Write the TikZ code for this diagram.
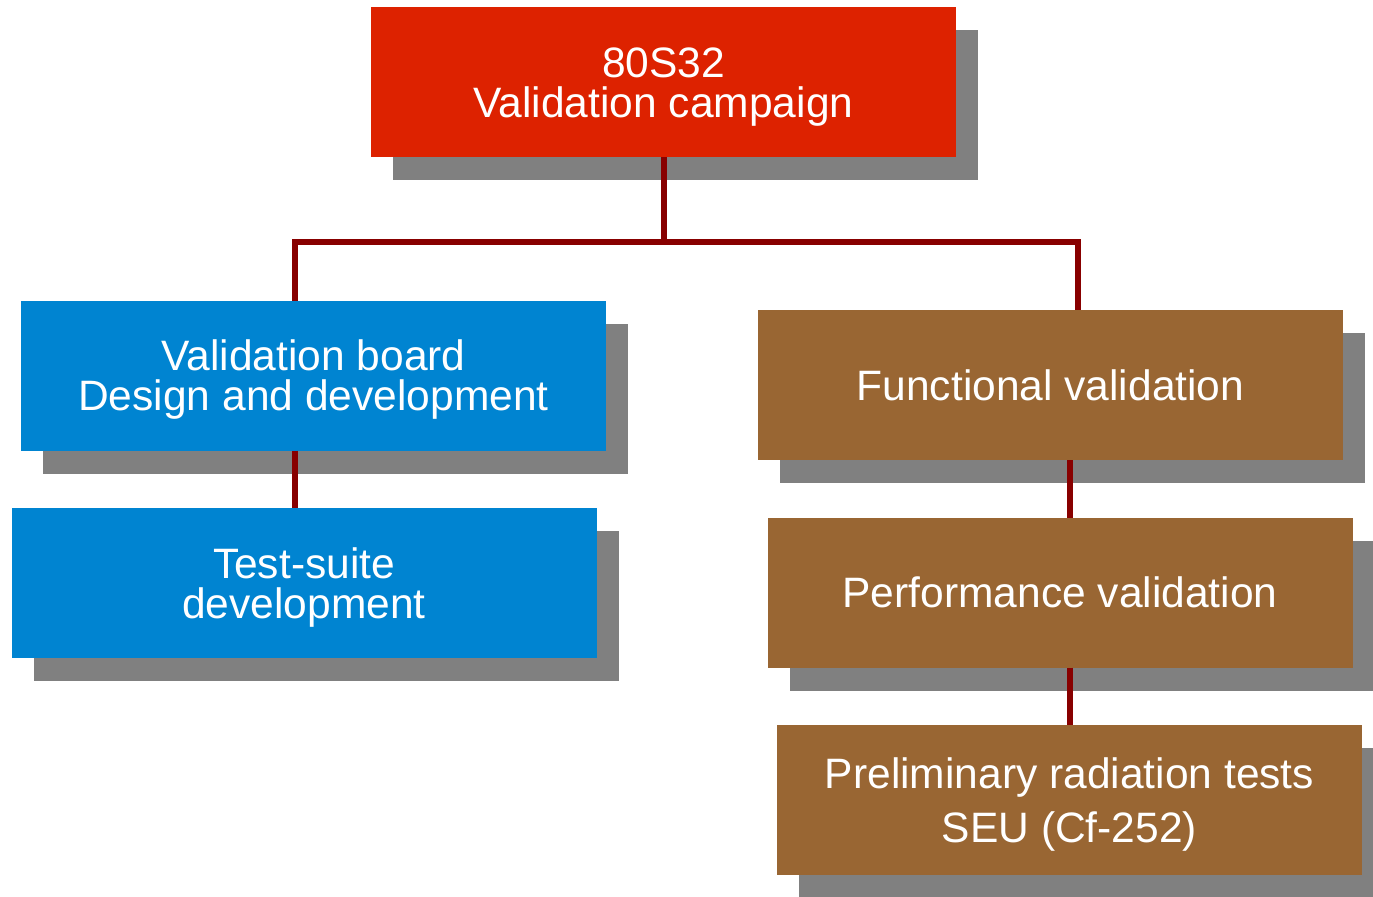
\documentclass[tikz,border=0pt]{standalone}
\usepackage{fontspec}
\setmainfont{Liberation Sans}
\usetikzlibrary{shadows,calc}
\definecolor{campred}{HTML}{DD2200}
\definecolor{boardblue}{HTML}{0084D1}
\definecolor{testbrown}{HTML}{996633}
\definecolor{shadowgray}{HTML}{808080}
\definecolor{linkred}{HTML}{880000}

\begin{document}
\begin{tikzpicture}[
    box/.style={
        rectangle,
        minimum width=11.7cm,
        minimum height=3cm,
        inner sep=0pt,
        outer sep=0pt,
        align=center,
        text=white,
        font=\fontsize{24.2}{22.8}\selectfont,
        general shadow={fill=shadowgray, shadow xshift=0.44cm, shadow yshift=-0.46cm}
    },
    twoline/.style={text height=45pt},
    root/.style={box, fill=campred},
    board/.style={box, fill=boardblue},
    test/.style={box, fill=testbrown},
    link/.style={draw=linkred, line width=0.12cm}
]
\useasboundingbox (0,0) rectangle (27.46,-17.92);

% Campaign root
\node (camp) [root, twoline] at (13.27,-1.64)
    {80S32\\Validation campaign};

% Board branch
\node (vboard) [board, twoline] at (6.27,-7.51)
    {Validation board\\Design and development};

\node (suite) [board, twoline] at (6.08,-11.66)
    {Test-suite\\development};

% Validation branch
\node (func) [test] at (21.01,-7.70)
    {Functional validation};

\node (perf) [test] at (21.20,-11.85)
    {Performance validation};

\node (rad) [test, text height=53pt] at (21.39,-16.00)
    {Preliminary radiation tests\\[7.9pt]SEU (Cf-252)};

% Tree links
\coordinate (split) at ($(camp.south)+(0,-1.7)$);
\draw[link] (camp.south) -- (split);
\draw[link] (split) -| ([xshift=-0.37cm]vboard.north);
\draw[link] (split) -| ([xshift=0.55cm]func.north);
\draw[link] ([xshift=-0.37cm]vboard.south) -- ([xshift=-0.37cm]vboard.south |- suite.north);
\draw[link] ([xshift=0.39cm]func.south) -- ([xshift=0.39cm]func.south |- perf.north);
\draw[link] ([xshift=0.2cm]perf.south) -- ([xshift=0.2cm]perf.south |- rad.north);

\end{tikzpicture}
\end{document}
